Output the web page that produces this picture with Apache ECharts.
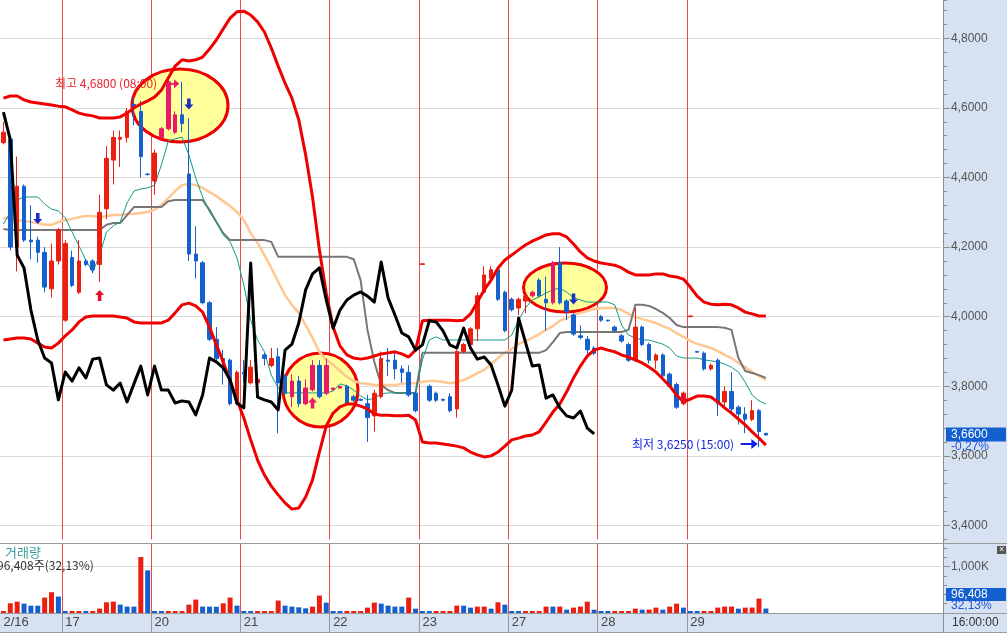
<!DOCTYPE html>
<html><head><meta charset="utf-8">
<script src="https://cdn.jsdelivr.net/npm/echarts@6/dist/echarts.min.js"></script>
<style>html,body{margin:0;padding:0;background:#fff}#c{width:1007px;height:633px}</style>
</head><body><div id="c"></div>
<script>
// ---------------- data ----------------
const dayLabels = ['2/16','17','20','21','22','23','27','28','29'];
const dayFirstSlot = [0, 9, 22, 35, 48, 61, 74, 87, 100];
const slotCount = 137;
const priceTicks = [3.4, 3.6, 3.8, 4.0, 4.2, 4.4, 4.6, 4.8];
const volumeTicks = [1000];
const lastClose = 3.66;
const lastChange = '-0,27%';
const lastVolume = '96,408';
const volumeShare = '32,13%';

// [open, close, low, high]
const candles = [
[4.50,4.53,4.495,4.56],[4.51,4.20,4.19,4.52],[4.20,4.375,4.13,4.46],[4.375,4.22,4.215,4.38],[4.22,4.215,4.165,4.32],
[4.22,4.185,4.155,4.23],[4.185,4.085,4.07,4.20],[4.08,4.16,4.055,4.21],[4.16,4.25,4.15,4.255],[3.99,4.21,3.985,4.22],
[4.17,4.09,4.085,4.19],[4.07,4.16,4.065,4.22],[4.16,4.15,4.145,4.165],[4.16,4.135,4.125,4.165],[4.15,4.30,4.10,4.35],
[4.31,4.455,4.28,4.49],[4.45,4.515,4.38,4.535],[4.51,4.515,4.43,4.535],[4.515,4.59,4.50,4.60],[4.61,4.60,4.55,4.63],
[4.59,4.46,4.40,4.62],[4.41,4.409,4.405,4.412],[4.39,4.47,4.35,4.48],[4.515,4.54,4.51,4.545],[4.54,4.675,4.535,4.68],
[4.53,4.58,4.525,4.59],[4.58,4.555,4.53,4.675],[4.41,4.18,4.16,4.57],[4.18,4.16,4.11,4.26],[4.155,4.04,4.035,4.16],
[4.04,3.935,3.93,4.045],[3.935,3.88,3.875,3.97],[3.88,3.87,3.805,3.905],[3.875,3.75,3.745,3.88],[3.75,3.84,3.745,3.845],
[3.84,3.835,3.81,3.875],[3.81,3.855,3.805,3.875],[3.81,3.82,3.805,3.825],[3.89,3.88,3.86,3.895],[3.86,3.88,3.855,3.91],
[3.885,3.81,3.665,3.91],[3.83,3.78,3.775,3.835],[3.77,3.815,3.74,3.835],[3.815,3.75,3.74,3.83],[3.75,3.795,3.745,3.82],
[3.79,3.86,3.785,3.875],[3.86,3.77,3.765,3.875],[3.78,3.86,3.775,3.88],[3.79,3.795,3.789,3.796],[3.795,3.80,3.794,3.801],
[3.80,3.75,3.745,3.805],[3.77,3.76,3.755,3.775],[3.762,3.76,3.757,3.765],[3.75,3.71,3.64,3.775],[3.715,3.78,3.67,3.79],
[3.77,3.88,3.765,3.90],[3.875,3.872,3.83,3.91],[3.875,3.85,3.82,3.90],[3.85,3.84,3.81,3.86],[3.84,3.775,3.77,3.86],
[3.78,3.73,3.725,3.785],[4.15,4.152,4.149,4.153],[3.80,3.76,3.755,3.805],[3.78,3.76,3.755,3.785],[3.762,3.76,3.757,3.765],
[3.77,3.73,3.725,3.78],[3.735,3.90,3.71,3.905],[3.90,3.92,3.895,3.925],[3.92,3.965,3.915,3.97],[3.965,4.06,3.93,4.07],
[4.07,4.12,4.065,4.145],[4.11,4.135,4.095,4.145],[4.135,4.05,4.045,4.14],[4.07,3.96,3.955,4.075],[4.05,4.02,4.015,4.055],
[4.025,4.05,4.005,4.055],[4.045,4.06,4.01,4.065],[4.06,4.07,4.055,4.075],[4.105,4.06,4.055,4.11],[4.05,4.04,3.96,4.115],
[4.04,4.155,4.035,4.16],[4.155,4.04,4.035,4.20],[4.045,4.015,3.99,4.05],[4.005,3.95,3.945,4.01],[3.945,3.94,3.935,3.975],
[3.935,3.905,3.88,3.945],[3.91,3.895,3.89,3.915],[4.00,3.99,3.985,4.005],[3.99,3.988,3.986,3.991],[3.97,3.96,3.955,3.975],
[3.945,3.93,3.925,3.95],[3.92,3.875,3.87,3.925],[3.875,3.97,3.87,4.025],[3.97,3.92,3.915,3.975],[3.92,3.875,3.865,3.925],
[3.875,3.89,3.85,3.895],[3.89,3.83,3.82,3.895],[3.835,3.80,3.795,3.84],[3.805,3.74,3.735,3.81],[3.75,3.78,3.745,3.785],
[4.00,4.002,3.999,4.003],[3.90,3.898,3.897,3.901],[3.895,3.85,3.845,3.90],[3.85,3.86,3.845,3.865],[3.875,3.75,3.715,3.88],
[3.755,3.785,3.74,3.80],[3.785,3.735,3.725,3.84],[3.74,3.72,3.69,3.745],[3.72,3.705,3.665,3.74],[3.705,3.73,3.70,3.76],
[3.73,3.67,3.625,3.735],[3.665,3.66,3.659,3.666]
];

const bbUpper = [
4.628,4.634,4.634,4.623,4.617,4.614,4.611,4.608,4.605,4.603,
4.594,4.585,4.580,4.577,4.571,4.571,4.571,4.574,4.585,4.600,
4.611,4.620,4.631,4.651,4.686,4.720,4.738,4.735,4.738,4.746,
4.769,4.795,4.827,4.858,4.876,4.878,4.867,4.847,4.818,4.772,
4.720,4.671,4.628,4.565,4.465,4.344,4.192,4.068,3.970,3.916,
3.890,3.881,3.878,3.881,3.887,3.893,3.896,3.899,3.893,3.884,
3.904,3.988,3.990,3.990,3.990,3.990,3.988,3.990,4.008,4.042,
4.077,4.105,4.140,4.163,4.177,4.192,4.206,4.217,4.226,4.235,
4.238,4.238,4.229,4.209,4.186,4.169,4.160,4.154,4.151,4.148,
4.140,4.128,4.120,4.120,4.120,4.123,4.123,4.117,4.114,4.108,
4.085,4.059,4.042,4.036,4.034,4.036,4.034,4.025,4.013,4.008,
4.002,4.002];

const bbLower = [
3.933,3.936,3.939,3.939,3.936,3.924,3.913,3.910,3.924,3.945,
3.962,3.985,3.999,4.002,4.002,4.002,4.002,3.999,3.996,3.985,
3.982,3.982,3.982,3.982,3.990,4.011,4.034,4.039,4.031,4.013,
3.970,3.919,3.870,3.815,3.761,3.709,3.646,3.588,3.545,3.513,
3.488,3.465,3.447,3.450,3.482,3.531,3.611,3.686,3.723,3.741,
3.749,3.749,3.743,3.735,3.720,3.717,3.717,3.715,3.715,3.717,
3.703,3.640,3.637,3.637,3.634,3.631,3.628,3.623,3.611,3.603,
3.597,3.600,3.611,3.628,3.646,3.651,3.657,3.660,3.669,3.697,
3.726,3.749,3.784,3.824,3.858,3.887,3.904,3.910,3.904,3.899,
3.890,3.884,3.876,3.867,3.855,3.841,3.821,3.801,3.775,3.755,
3.763,3.772,3.772,3.769,3.755,3.738,3.723,3.706,3.689,3.669,
3.651,3.631];

const maFast = [
4.266,4.301,4.335,4.344,4.344,4.344,4.324,4.309,4.304,4.284,
4.243,4.203,4.163,4.128,4.177,4.243,4.261,4.272,4.327,4.361,
4.367,4.370,4.378,4.436,4.505,4.511,4.516,4.465,4.398,4.344,
4.301,4.272,4.235,4.215,4.169,4.091,3.990,3.933,3.899,3.832,
3.795,3.781,3.781,3.781,3.781,3.781,3.781,3.781,3.786,3.807,
3.801,3.789,3.772,3.761,3.766,3.778,3.781,3.781,3.781,3.781,
3.781,3.876,3.933,3.942,3.933,3.933,3.933,3.933,3.933,3.933,
3.933,3.933,3.933,3.933,3.947,3.990,4.025,4.048,4.057,4.068,
4.077,4.082,4.071,4.054,4.048,4.042,4.042,4.042,4.042,4.034,
3.976,3.947,3.939,3.933,3.933,3.927,3.921,3.910,3.887,3.881,
3.881,3.881,3.876,3.873,3.870,3.864,3.855,3.841,3.812,3.775,
3.758,3.749];

const maSlow = [
4.284,4.281,4.278,4.275,4.272,4.269,4.264,4.264,4.272,4.278,
4.281,4.286,4.289,4.289,4.286,4.289,4.292,4.292,4.295,4.295,
4.298,4.301,4.307,4.321,4.341,4.361,4.378,4.381,4.378,4.370,
4.358,4.347,4.332,4.318,4.301,4.278,4.240,4.212,4.177,4.140,
4.100,4.062,4.034,4.011,3.976,3.939,3.899,3.876,3.861,3.844,
3.827,3.815,3.809,3.807,3.804,3.804,3.804,3.804,3.807,3.809,
3.809,3.812,3.815,3.815,3.812,3.809,3.812,3.818,3.827,3.838,
3.847,3.864,3.881,3.896,3.907,3.922,3.930,3.939,3.950,3.962,
3.973,3.988,3.996,4.005,4.011,4.016,4.022,4.025,4.025,4.025,
4.019,4.008,3.999,3.993,3.988,3.982,3.973,3.965,3.953,3.942,
3.930,3.922,3.916,3.910,3.901,3.890,3.881,3.867,3.855,3.841,
3.830,3.818];

const stepLine = [
4.252,4.249,4.249,4.249,4.249,4.249,4.249,4.249,4.249,4.249,
4.249,4.249,4.249,4.249,4.249,4.264,4.269,4.269,4.292,4.315,
4.315,4.315,4.315,4.315,4.332,4.335,4.335,4.335,4.335,4.335,
4.307,4.272,4.240,4.220,4.220,4.220,4.220,4.220,4.220,4.215,
4.172,4.172,4.172,4.172,4.172,4.172,4.172,4.172,4.172,4.172,
4.172,4.165,4.105,3.962,3.870,3.804,3.789,3.781,3.781,3.781,
3.781,3.896,3.896,3.896,3.896,3.896,3.896,3.896,3.896,3.896,
3.896,3.896,3.896,3.896,3.896,3.896,3.896,3.896,3.896,3.904,
3.927,3.953,3.956,3.956,3.956,3.956,3.956,3.956,3.956,3.956,
3.956,3.962,4.034,4.034,4.031,4.022,4.011,3.996,3.976,3.970,
3.970,3.970,3.970,3.970,3.970,3.968,3.962,3.881,3.844,3.838,
3.832,3.824];

const blackLine = [
4.588,4.508,4.177,4.140,4.019,3.933,3.881,3.867,3.761,3.841,
3.815,3.853,3.824,3.878,3.881,3.804,3.789,3.809,3.755,3.807,
3.858,3.775,3.858,3.789,3.789,3.752,3.758,3.755,3.718,3.775,
3.881,3.870,3.853,3.818,3.752,3.738,4.154,3.769,3.761,3.755,
3.732,3.904,3.921,3.982,4.077,4.123,4.140,4.048,3.967,4.019,
4.048,4.062,4.071,4.059,4.042,4.157,4.054,4.005,3.953,3.942,
3.904,3.919,3.988,3.985,3.959,3.919,3.910,3.967,3.910,3.878,
3.884,3.861,3.804,3.743,3.789,3.996,3.927,3.858,3.861,3.766,
3.775,3.738,3.715,3.709,3.729,3.680,3.663];

// volume, thousands
const volume = [
5,210,245,202,159,158,333,449,355,
5,7,8,6,7, 94,231,245,181,138,137,1209,920,
5,4,6,7,8, 181,290,138,137,136,210,333,159,
5,4,6,7,8, 268,159,138,123,101,138,376,224,
5,4,6,7,8, 116,224,202,159,138,137,333,94,
5,4,6,7,8, 159,158,116,138,139,94,231,181,
5,4,6,7,8, 138,137,139,72,116,138,245,72,
5,4,6,7,8, 94,72,73,116,72,138,202,116,
5,4,6,7, 116,138,139,94,116,117,311,96.408];

// ---------------- styles ----------------
const FONT = "'Liberation Sans','Noto Sans CJK KR',sans-serif";
const KFONT = "'Noto Sans CJK KR','Liberation Sans',sans-serif";
const RED = '#ea1f10', BLUE = '#1560cf', PINK = '#e8196b';
const PANEL = '#d6e2f1';
const highlightIdx = [23,24,25,42,44,45,47,48,49,77,80];

const cats = [];
for (let i = 0; i < slotCount; i++) {
  let d = 0;
  for (let k = 0; k < dayFirstSlot.length; k++) if (i >= dayFirstSlot[k]) d = k;
  cats.push(dayLabels[d] + '-' + (i - dayFirstSlot[d]));
}
const sepFn = (idx) => idx > 0 && dayFirstSlot.indexOf(idx) >= 0;
const labFn = (idx) => dayFirstSlot.indexOf(idx) >= 0;
const sepColors = ['#e84a4a','#e84a4a','#e84a4a','#e84a4a','#e84a4a','#e84a4a','#e84a4a','#e84a4a','rgba(0,0,0,0)'];
const gridColors = ['rgba(0,0,0,0)','#d9d9d9','rgba(0,0,0,0)','rgba(0,0,0,0)','rgba(0,0,0,0)'];
const volGridColors = ['rgba(0,0,0,0)','rgba(0,0,0,0)','rgba(0,0,0,0)','rgba(0,0,0,0)','rgba(0,0,0,0)','#d9d9d9','rgba(0,0,0,0)','rgba(0,0,0,0)','rgba(0,0,0,0)','rgba(0,0,0,0)'];
const fmtPrice = (v) => v.toFixed(4).replace('.', ',');

const candleData = candles.map((c, i) => highlightIdx.indexOf(i) >= 0 && c[1] > c[0]
  ? {value: c, itemStyle: {color: PINK, borderColor: PINK}} : c);
const volData = volume.map((v, i) => ({
  value: v,
  itemStyle: {color: (i === 0 || v > volume[i - 1]) ? RED : BLUE}
}));

const arrowUp = 'path://M5,0 L10,5 L7,5 L7,11 L3,11 L3,5 L0,5 Z';
const arrowDown = 'path://M5,11 L10,6 L7,6 L7,0 L3,0 L3,6 L0,6 Z';
const arrowRight = 'path://M16,5 L10,0 L10,4 L0,4 L0,6 L10,6 L10,10 Z';
const DBLUE = '#1a30c0';

const chart = echarts.init(document.getElementById('c'), null, {renderer: 'canvas'});
const option = {
  animation: false,
  backgroundColor: '#fff',
  textStyle: {fontFamily: FONT},
  grid: [
    {left: -1, top: 0, width: 942, height: 539.4},
    {left: -1, top: 543.5, width: 942, height: 69.5}
  ],
  xAxis: [
    {type: 'category', gridIndex: 0, data: cats, boundaryGap: true,
     axisLine: {show: false}, axisTick: {show: false}, axisLabel: {show: false},
     splitLine: {show: true, interval: sepFn, lineStyle: {color: sepColors, width: 1}}},
    {type: 'category', gridIndex: 1, data: cats, boundaryGap: true,
     axisLine: {show: true, lineStyle: {color: '#999'}},
     axisTick: {show: true, interval: sepFn, length: 19, lineStyle: {color: '#999'}},
     axisLabel: {show: true, interval: labFn, align: 'left', margin: 3, color: '#444', fontSize: 13,
       formatter: (v, idx) => dayLabels[dayFirstSlot.indexOf(idx)] || ''},
     splitLine: {show: true, interval: sepFn, lineStyle: {color: sepColors, width: 1}}}
  ],
  yAxis: [
    {type: 'value', gridIndex: 0, position: 'right', offset: 2, min: 3.36, max: 4.91, interval: 0.04,
     axisLine: {show: true, lineStyle: {color: '#8c8c8c'}},
     axisTick: {show: true, length: 4, lineStyle: {color: '#8c8c8c'}},
     axisLabel: {show: false},
     splitLine: {show: true, lineStyle: {color: gridColors, width: 1}}},
    {type: 'value', gridIndex: 0, position: 'right', offset: 2, min: 3.36, max: 4.91,
     axisLine: {show: false},
     axisTick: {show: true, length: 7, customValues: priceTicks, lineStyle: {color: '#8c8c8c'}},
     axisLabel: {show: true, customValues: priceTicks, formatter: fmtPrice, margin: 8, color: '#555', fontSize: 12},
     splitLine: {show: false}},
    {type: 'value', gridIndex: 1, position: 'right', offset: 2, min: 0, max: 1500, interval: 200,
     axisLine: {show: true, lineStyle: {color: '#8c8c8c'}},
     axisTick: {show: true, length: 4, lineStyle: {color: '#8c8c8c'}},
     axisLabel: {show: false},
     splitLine: {show: true, lineStyle: {color: volGridColors, width: 1}}},
    {type: 'value', gridIndex: 1, position: 'right', offset: 2, min: 0, max: 1500,
     axisLine: {show: false},
     axisTick: {show: true, length: 7, customValues: volumeTicks, lineStyle: {color: '#8c8c8c'}},
     axisLabel: {show: true, customValues: volumeTicks, margin: 8, color: '#555', fontSize: 12,
       formatter: (v) => (v / 1000).toFixed(3).replace('.', ',') + 'K'},
     splitLine: {show: false}}
  ],
  series: [
    {name: 'maSlow', type: 'line', xAxisIndex: 0, yAxisIndex: 0, data: maSlow, symbol: 'none', z: 2,
     lineStyle: {color: '#ffc792', width: 2.5}},
    {name: 'step', type: 'line', xAxisIndex: 0, yAxisIndex: 0, data: stepLine, symbol: 'none', z: 2,
     lineStyle: {color: '#777', width: 2}},
    {name: 'maFast', type: 'line', xAxisIndex: 0, yAxisIndex: 0, data: maFast, symbol: 'none', z: 2,
     lineStyle: {color: '#129a86', width: 1}},
    {name: 'price', type: 'candlestick', xAxisIndex: 0, yAxisIndex: 0, data: candleData, z: 3,
     barWidth: 4,
     itemStyle: {color: RED, color0: BLUE, borderColor: RED, borderColor0: BLUE, borderWidth: 1},
     markPoint: {
       silent: true, label: {show: false}, animation: false,
       data: [
         {coord: [cats[5], 4.282], symbol: arrowDown, symbolSize: [9, 11], itemStyle: {color: DBLUE}},
         {coord: [cats[14], 4.061], symbol: arrowUp, symbolSize: [9, 11], itemStyle: {color: '#e0122a'}},
         {coord: [cats[24], 4.669], symbol: arrowRight, symbolSize: [14, 9], symbolOffset: [4, 0], itemStyle: {color: PINK}},
         {coord: [cats[27], 4.611], symbol: arrowDown, symbolSize: [9, 11], itemStyle: {color: DBLUE}},
         {coord: [cats[45], 3.752], symbol: arrowUp, symbolSize: [9, 11], itemStyle: {color: PINK}},
         {coord: [cats[83], 4.051], symbol: arrowDown, symbolSize: [9, 11], itemStyle: {color: DBLUE}},
         {coord: [cats[99], 3.766], symbol: arrowDown, symbolSize: [8, 10], itemStyle: {color: '#e0122a'}},
         {coord: [cats[108], 3.634], symbol: arrowRight, symbolSize: [17, 10], symbolOffset: [4, 0], itemStyle: {color: '#1020e8'}}
       ]
     }},
    {name: 'bbUpper', type: 'line', xAxisIndex: 0, yAxisIndex: 0, data: bbUpper, symbol: 'none', z: 4,
     lineStyle: {color: '#ee0000', width: 3}},
    {name: 'bbLower', type: 'line', xAxisIndex: 0, yAxisIndex: 0, data: bbLower, symbol: 'none', z: 4,
     lineStyle: {color: '#ee0000', width: 3}},
    {name: 'osc', type: 'line', xAxisIndex: 0, yAxisIndex: 0, data: blackLine, symbol: 'none', z: 4,
     lineStyle: {color: '#000', width: 3, join: 'round'}},
    {name: 'volume', type: 'bar', xAxisIndex: 1, yAxisIndex: 2, data: volData, barWidth: 5, barMinHeight: 2}
  ]
};
chart.setOption(option);

// ------------- annotations -------------
const yLast = chart.convertToPixel({yAxisIndex: 0}, lastClose);
const ell = (cx, cy, rx, ry) => ({type: 'ellipse', z: 1, silent: true,
  shape: {cx: cx, cy: cy, rx: rx, ry: ry}, style: {fill: '#ffff9c', stroke: '#ee0000', lineWidth: 3}});
const txt = (x, y, t, color, size, font, extra) => Object.assign({type: 'text', z: 20, silent: true, x: x, y: y,
  style: {text: t, fill: color, font: size + 'px ' + font, textVerticalAlign: 'middle', textAlign: 'left'}}, extra || {});
chart.setOption({
  graphic: [
    {type: 'rect', z: -10, silent: true, shape: {x: 943, y: 0, width: 64, height: 633}, style: {fill: PANEL}},
    {type: 'rect', z: -10, silent: true, shape: {x: 0, y: 614, width: 1007, height: 19}, style: {fill: PANEL}},
    {type: 'rect', z: 4, silent: true, shape: {x: 938, y: 614, width: 5, height: 18}, style: {fill: PANEL}},
    {type: 'line', z: 5, silent: true, shape: {x1: 0, y1: 543.5, x2: 1007, y2: 543.5}, style: {stroke: '#9a9a9a', lineWidth: 1}},
    {type: 'line', z: 5, silent: true, shape: {x1: 0, y1: 613.5, x2: 1007, y2: 613.5}, style: {stroke: '#9a9a9a', lineWidth: 1}},
    {type: 'line', z: 5, silent: true, shape: {x1: 0, y1: 632.5, x2: 1007, y2: 632.5}, style: {stroke: '#9a9a9a', lineWidth: 1}},
    {type: 'line', z: 5, silent: true, shape: {x1: 943.5, y1: 0, x2: 943.5, y2: 633}, style: {stroke: '#8c8c8c', lineWidth: 1}},
    ell(180, 105.5, 48, 36.5),
    ell(320.5, 390, 37.5, 37),
    ell(565, 287.5, 41.5, 24.5),
    txt(55, 83, '최고 4,6800 (08:00)', '#e8202a', 12, KFONT),
    txt(632, 444, '최저 3,6250 (15:00)', '#1428e0', 12, KFONT),
    txt(5, 552, '거래량', '#3a9c9c', 13, KFONT),
    txt(-3, 565, '96,408주(32,13%)', '#333', 12, KFONT),
    {type: 'rect', z: 19, silent: true, shape: {x: 946, y: yLast - 7.5, width: 60, height: 14}, style: {fill: '#1560cf'}},
    txt(951, yLast, fmtPrice(lastClose), '#fff', 12, FONT),
    txt(951, yLast + 12, lastChange, '#2255dd', 12, FONT),
    {type: 'rect', z: 19, silent: true, shape: {x: 946, y: 588, width: 60, height: 13}, style: {fill: '#1560cf'}},
    txt(951, 594.5, lastVolume, '#fff', 12, FONT),
    txt(951, 606, volumeShare, '#2255dd', 12, FONT),
    txt(952, 622.5, '16:00:00', '#333', 12, FONT),
    {type: 'rect', z: 19, silent: true, shape: {x: 997, y: 546, width: 9, height: 8}, style: {fill: '#555'}},
    txt(999, 550, '×', '#fff', 9, FONT)
  ]
});
</script>
</body></html>
